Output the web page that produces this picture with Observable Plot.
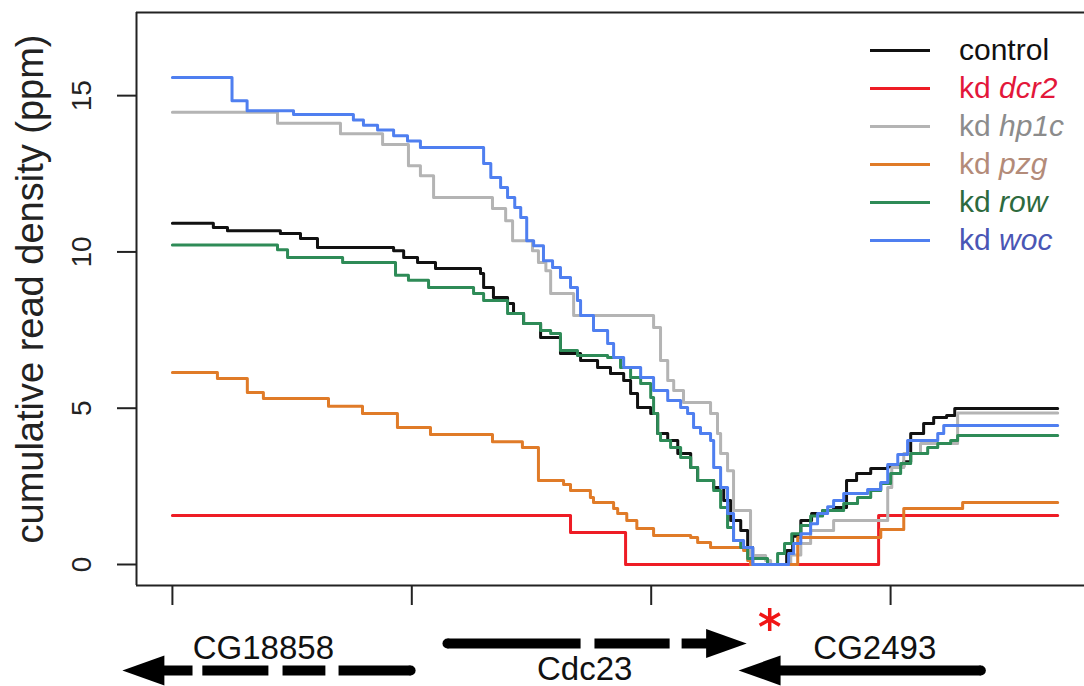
<!DOCTYPE html>
<html>
<head>
<meta charset="utf-8">
<script src="https://cdn.jsdelivr.net/npm/d3@7"></script>
<script src="https://cdn.jsdelivr.net/npm/@observablehq/plot@0.6"></script>
<style>
  html, body { margin: 0; padding: 0; background: white; }
  #chart { position: relative; width: 1084px; height: 686px; overflow: hidden; }
  #legend { position: absolute; left: 870px; top: 31px; font-family: "Liberation Sans", Arial, sans-serif; font-size: 30px; }
  .row { display: flex; align-items: center; height: 38px; white-space: nowrap; }
  .sw { width: 60px; height: 0; border-top: 3px solid; margin-right: 29px; }
</style>
</head>
<body>
<div id="chart"><div id="legend"></div></div>
<script>
// ---------- data ----------
const seriesNames = ["control", "kd dcr2", "kd hp1c", "kd pzg", "kd row", "kd woc"];
const legendPrefix = ["control", "kd ", "kd ", "kd ", "kd ", "kd "];
const legendGene = ["", "dcr2", "hp1c", "pzg", "row", "woc"];
const lineColors = ["#111111", "#ee1c25", "#b4b4b4", "#e07b28", "#2e8b57", "#4f7ff0"];
const textColors = ["#111111", "#e3173a", "#8c8c8c", "#b38b79", "#2d6a3e", "#4a56b5"];

const xTicks = [0, 1, 2, 3];
const yTicks = [0, 5, 10, 15];
const xDomain = [-0.15, 3.81];
const yDomain = [-0.672, 17.66];
const yTitle = "cumulative read density (ppm)";

// [position, cumulative density] (step-after)
const control = [[0,10.92],[0.171,10.78],[0.230,10.68],[0.451,10.59],[0.535,10.43],[0.606,10.14],[0.924,10.04],[0.966,9.82],[1.024,9.66],[1.099,9.47],[1.287,9.31],[1.300,8.86],[1.341,8.54],[1.400,8.35],[1.425,8.03],[1.467,7.71],[1.538,7.26],[1.621,6.75],[1.705,6.53],[1.776,6.30],[1.830,6.11],[1.885,5.89],[1.914,5.47],[1.943,5.02],[1.998,4.83],[2.027,4.19],[2.069,3.97],[2.111,3.55],[2.165,3.10],[2.194,2.69],[2.261,2.46],[2.303,2.05],[2.332,1.41],[2.374,1.09],[2.403,0.54],[2.424,0],[2.566,0.45],[2.591,0.90],[2.625,1.41],[2.670,1.63],[2.716,1.73],[2.762,1.82],[2.816,2.69],[2.858,2.91],[2.917,3.07],[2.988,3.13],[3.055,3.29],[3.084,4.19],[3.138,4.51],[3.180,4.70],[3.234,4.77],[3.268,4.99],[3.698,4.99]];
const dcr2 = [[0,1.57],[1.663,1.02],[1.893,0],[2.950,1.57],[3.698,1.57]];
const hp1c = [[0,14.47],[0.439,14.12],[0.702,13.78],[0.878,13.44],[0.986,12.76],[1.036,12.44],[1.091,11.74],[1.337,11.39],[1.392,11.0],[1.421,10.36],[1.504,10.04],[1.529,9.66],[1.560,9.40],[1.580,8.67],[1.676,7.97],[2.010,7.58],[2.039,6.53],[2.069,5.89],[2.094,5.57],[2.135,5.18],[2.248,4.83],[2.277,4.19],[2.290,3.55],[2.319,3.0],[2.344,1.73],[2.415,0.29],[2.478,0.13],[2.499,0],[2.583,0.3],[2.625,0.67],[2.666,1.09],[2.762,1.41],[2.988,2.46],[3.005,3.10],[3.055,3.55],[3.125,3.87],[3.280,4.85],[3.698,4.85]];
const pzg = [[0,6.14],[0.188,5.95],[0.313,5.50],[0.380,5.31],[0.652,5.06],[0.794,4.83],[0.940,4.38],[1.078,4.16],[1.337,3.93],[1.462,3.74],[1.529,2.69],[1.634,2.56],[1.663,2.37],[1.746,2.14],[1.759,1.98],[1.843,1.79],[1.860,1.63],[1.898,1.41],[1.940,1.15],[2.010,0.93],[2.165,0.86],[2.194,0.70],[2.248,0.54],[2.386,0.45],[2.403,0.13],[2.415,0],[2.612,0.86],[2.959,1.12],[3.055,1.79],[3.301,1.98],[3.698,1.98]];
const row = [[0,10.22],[0.439,10.07],[0.481,9.82],[0.711,9.66],[0.932,9.25],[0.986,9.09],[1.070,8.86],[1.258,8.67],[1.300,8.45],[1.400,8.03],[1.467,7.71],[1.538,7.49],[1.580,7.39],[1.621,6.85],[1.692,6.69],[1.818,6.62],[1.872,6.30],[1.914,5.98],[1.956,5.79],[1.998,5.34],[2.010,4.83],[2.027,4.19],[2.039,3.97],[2.081,3.74],[2.123,3.42],[2.165,3.10],[2.194,2.69],[2.261,2.37],[2.290,1.82],[2.319,1.18],[2.344,0.77],[2.374,0.54],[2.403,0.19],[2.486,0],[2.528,0.35],[2.557,0.67],[2.587,0.98],[2.625,1.25],[2.666,1.55],[2.716,1.73],[2.804,1.95],[2.862,2.14],[2.917,2.37],[2.959,2.59],[3.000,2.91],[3.042,3.23],[3.084,3.55],[3.155,3.74],[3.197,3.87],[3.251,3.97],[3.280,4.13],[3.698,4.13]];
const woc = [[0,15.58],[0.249,14.84],[0.312,14.52],[0.506,14.40],[0.756,14.22],[0.798,14.05],[0.857,13.90],[0.924,13.72],[0.982,13.55],[1.036,13.34],[1.300,12.83],[1.330,12.38],[1.371,12.06],[1.400,11.74],[1.430,11.42],[1.455,11.10],[1.480,10.36],[1.509,10.20],[1.550,9.72],[1.588,9.50],[1.621,9.18],[1.663,8.86],[1.692,8.45],[1.705,7.97],[1.759,7.49],[1.818,7.07],[1.843,6.62],[1.885,6.30],[1.956,5.98],[2.010,5.57],[2.069,5.25],[2.123,5.02],[2.152,4.83],[2.177,4.38],[2.206,4.19],[2.248,3.97],[2.261,3.10],[2.290,2.46],[2.319,1.63],[2.344,0.77],[2.386,0.54],[2.424,0],[2.574,0.35],[2.595,0.67],[2.625,0.98],[2.666,1.30],[2.695,1.63],[2.737,1.85],[2.762,2.05],[2.804,2.27],[2.904,2.40],[2.959,2.62],[2.988,3.20],[3.030,3.52],[3.071,3.97],[3.197,4.19],[3.222,4.45],[3.698,4.45]];
const seriesValues = [control, dcr2, hp1c, pzg, row, woc];

// gene annotation track (positions in the same units as x)
const geneNames = ["CG18858", "Cdc23", "CG2493"];
const geneStrand = ["-", "+", "-"];
const geneTip = [-0.209, 2.399, 2.365];
const geneTrack = [-3.39, -2.527, -3.39];
const geneBlocks = [
  [[-0.05, 0.084], [0.125, 0.401], [0.460, 0.639], [0.694, 0.995]],
  [[1.149, 1.705], [1.763, 2.077], [2.127, 2.24]],
  [[2.51, 3.377]]
];
const geneRoundEnd = [0.995, 1.149, 3.377];
const geneLabelX = [0.380, 1.722, 2.934];
const geneLabelY = [-2.69, -3.36, -2.69];
const peakMark = [{x: 2.495, y: -1.76}];

// ---------- build tables ----------
const table = seriesNames.flatMap((name, i) => seriesValues[i].map(([x, y]) => ({series: name, x, y})));
const segs = geneNames.flatMap((g, i) => geneBlocks[i].map(([a, b]) => ({x1: a, x2: b, y: geneTrack[i]})));
const heads = geneNames.map((g, i) => ({name: g, strand: geneStrand[i], x: geneTip[i], y: geneTrack[i]}));
const ends = geneNames.map((g, i) => ({x: geneRoundEnd[i], y: geneTrack[i]}));
const labels = geneNames.map((g, i) => ({name: g, x: geneLabelX[i], y: geneLabelY[i]}));

const headRight = {draw(ctx, size) { const r = Math.sqrt(size / Math.PI); ctx.moveTo(0, 0); ctx.lineTo(-2.8 * r, -r); ctx.lineTo(-2.8 * r, r); ctx.closePath(); }};
const headLeft = {draw(ctx, size) { const r = Math.sqrt(size / Math.PI); ctx.moveTo(0, 0); ctx.lineTo(2.8 * r, -r); ctx.lineTo(2.8 * r, r); ctx.closePath(); }};

const font = "Liberation Sans, Arial, Helvetica, sans-serif";

const chart = Plot.plot({
  width: 1084,
  height: 686,
  marginLeft: 136,
  marginRight: 0,
  marginTop: 12,
  marginBottom: 101,
  style: {fontFamily: font, background: "white", overflow: "visible"},
  x: {domain: xDomain},
  y: {domain: yDomain},
  color: {type: "ordinal", domain: seriesNames, range: lineColors},
  marks: [
    Plot.ruleX([xDomain[0]], {stroke: "#222", strokeWidth: 2}),
    Plot.ruleY(yDomain, {stroke: "#222", strokeWidth: 2}),
    Plot.axisY({ticks: yTicks, tickSize: 19, tickFormat: () => "", strokeWidth: 2, stroke: "#222", label: null}),
    Plot.axisX({ticks: xTicks, tickSize: 20, tickFormat: () => "", strokeWidth: 2, stroke: "#222", label: null}),
    Plot.text(yTicks, {y: d => d, text: d => String(d), frameAnchor: "left", textAnchor: "middle", dx: -54, rotate: -90, fontSize: 28, fill: "#222"}),
    Plot.text([yTitle], {text: d => d, frameAnchor: "left", textAnchor: "middle", dx: -106, dy: -10, rotate: -90, fontSize: 38, fill: "#222"}),
    Plot.line(table, {x: "x", y: "y", z: "series", stroke: "series", curve: "step-after", strokeWidth: 3}),
    Plot.link(segs, {x1: "x1", x2: "x2", y1: "y", y2: "y", stroke: "black", strokeWidth: 10}),
    Plot.dot(ends, {x: "x", y: "y", r: 5, fill: "black"}),
    Plot.dot(heads.filter(d => d.strand === "+"), {x: "x", y: "y", r: 14.5, symbol: headRight, fill: "black"}),
    Plot.dot(heads.filter(d => d.strand === "-"), {x: "x", y: "y", r: 15, symbol: headLeft, fill: "black"}),
    Plot.text(labels, {x: "x", y: "y", text: "name", fontSize: 33, fill: "#111"}),
    Plot.dot(peakMark, {x: "x", y: "y", symbol: "asterisk", r: 11, stroke: "#f01515", strokeWidth: 3.5})
  ]
});
const holder = document.getElementById("chart");
holder.insertBefore(chart, holder.firstChild);

// legend
const legend = document.getElementById("legend");
seriesNames.forEach((name, i) => {
  const r = document.createElement("div");
  r.className = "row";
  const sw = document.createElement("span");
  sw.className = "sw";
  sw.style.borderTopColor = lineColors[i];
  r.appendChild(sw);
  const t = document.createElement("span");
  t.style.color = textColors[i];
  t.appendChild(document.createTextNode(legendPrefix[i]));
  if (legendGene[i]) {
    const it = document.createElement("i");
    it.textContent = legendGene[i];
    t.appendChild(it);
  }
  r.appendChild(t);
  legend.appendChild(r);
});
</script>
</body>
</html>
